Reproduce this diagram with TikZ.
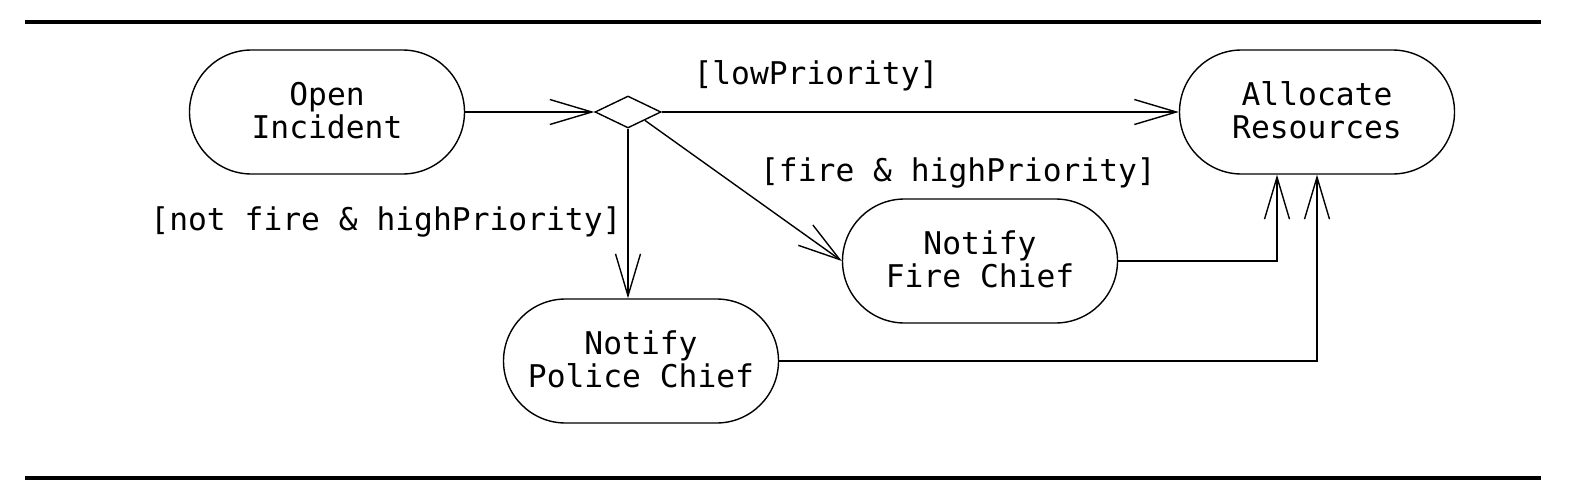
\documentclass[tikz,border=0pt]{standalone}
\usepackage{fontspec}
\setmonofont{DejaVu Sans Mono}
\usetikzlibrary{arrows.meta,shapes.geometric}
\tikzset{
  txt/.style={font=\ttfamily\fontsize{31.3}{33}\selectfont},
  act/.style={txt, draw, line width=1.4pt, rounded corners=62pt, minimum width=275pt, minimum height=124pt, inner sep=0pt, align=center},
  guard/.style={txt, inner sep=0pt},
  flow/.style={line width=1.4pt, -{Straight Barb[length=42pt,width=25pt,line width=1.4pt]}},
  rule/.style={line width=4pt}
}
\newcommand{\txtdepth}{\rule[-4pt]{0pt}{4pt}}
\begin{document}
\begin{tikzpicture}[x=1pt,y=-1pt]
\useasboundingbox (0,0) rectangle (1574,498);
\coordinate (r1a) at (25,22); \coordinate (r1b) at (1541,22);
\coordinate (r2a) at (25,478); \coordinate (r2b) at (1541,478);
\draw[rule] (r1a) -- (r1b);
\draw[rule] (r2a) -- (r2b);

\node[act] (open) at (327,112) {Open\\Incident\txtdepth};
\node[act] (alloc) at (1317,112) {Allocate\\Resources\txtdepth};
\node[act] (fire) at (980,261) {Notify\\Fire Chief\txtdepth};
\node[act] (police) at (641,361) {Notify\\Police Chief\txtdepth};
\node[draw, diamond, line width=1.4pt, minimum width=66pt, minimum height=32pt, inner sep=0pt] (dec) at (628,112) {};

\draw[flow] (open.east) -- (dec.west);
\draw[flow] (dec.east) -- (alloc.west);
\draw[flow] (dec.south east) -- (fire.west);
\draw[flow] (dec.south) -- (dec.south |- police.north);
\draw[flow] (fire.east) -| ([xshift=-40pt]alloc.south);
\draw[flow] (police.east) -| (alloc.south);

\node[guard] (lLow) at (816,76) {[lowPriority]};
\node[guard] (lFire) at (958,173) {[fire \& highPriority]};
\node[guard] (lNot) at (386,222) {[not fire \& highPriority]};
\end{tikzpicture}
\end{document}
